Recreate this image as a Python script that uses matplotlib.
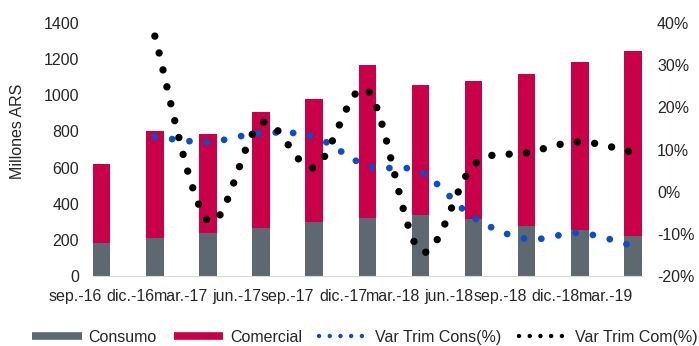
import numpy as np
import matplotlib
matplotlib.use("Agg")
import matplotlib.pyplot as plt
from matplotlib.lines import Line2D
from matplotlib.ticker import FuncFormatter

# quarterly data, millones ARS
trimestres = ['sep.-16', 'dic.-16', 'mar.-17', 'jun.-17', 'sep.-17', 'dic.-17',
              'mar.-18', 'jun.-18', 'sep.-18', 'dic.-18', 'mar.-19']
consumo = [183, 210, 236, 267, 300, 321, 338, 315, 278, 253, 220]
total = [620, 800, 785, 910, 980, 1165, 1055, 1080, 1120, 1185, 1245]
comercial = [t - c for t, c in zip(total, consumo)]

# quarterly variation (%), starts at dic.-16
var_cons = [13.0, 11.8, 13.9, 13.0, 6.1, 4.7, -6.1, -11.2, -9.8, -12.9]
var_com = [36.9, -6.9, 16.3, 5.7, 24.1, -14.1, 6.3, 9.2, 11.8, 9.3]

GRIS = '#5d6870'
ROJO = '#c90047'
AZUL = '#0a4fc8'
TXT = '#262626'


def suavizar(x, y, n=40):
    # excel-like smoothed line (catmull-rom as bezier)
    p = np.column_stack([x, y]).astype(float)
    p = np.vstack([p[0], p, p[-1]])
    out = []
    t = np.linspace(0, 1, n)[:, None]
    for i in range(1, len(p) - 2):
        p0, p1, p2, p3 = p[i - 1], p[i], p[i + 1], p[i + 2]
        b1 = p1 + (p2 - p0) / 6
        b2 = p2 - (p3 - p1) / 6
        seg = ((1 - t) ** 3) * p1 + 3 * ((1 - t) ** 2) * t * b1 + 3 * (1 - t) * t ** 2 * b2 + t ** 3 * p2
        out.append(seg if i == 1 else seg[1:])
    out = np.vstack(out)
    return out[:, 0], out[:, 1]


def main():
    plt.rcParams['font.family'] = ['Liberation Sans', 'DejaVu Sans']
    plt.rcParams['font.size'] = 11.5

    fig = plt.figure(figsize=(6.99, 3.46), dpi=100)
    ax = fig.add_axes([0.133, 0.2023, 0.785, 0.7312])
    x = np.arange(len(trimestres))
    w = 0.33

    ax.bar(x, consumo, w, color=GRIS, zorder=2)
    ax.bar(x, comercial, w, bottom=consumo, color=ROJO, zorder=2)
    ax.set_xlim(-w / 2, x[-1] + w / 2)
    ax.set_ylim(0, 1400)
    ax.set_yticks(range(0, 1401, 200))
    ax.set_xticks(x)
    ax.set_xticklabels(trimestres, ha='right', color=TXT)
    ax.tick_params(axis='x', length=0, pad=9)
    ax.tick_params(axis='y', length=0, pad=10, labelcolor=TXT)
    ax.set_ylabel('Millones ARS', color=TXT)
    ax.yaxis.set_label_coords(-0.124, 0.573)
    for s in ['top', 'left', 'right']:
        ax.spines[s].set_visible(False)
    ax.spines['bottom'].set_color('#d9d9d9')

    ax2 = ax.twinx()
    ax2.set_ylim(-20, 40)
    ax2.set_yticks(range(-20, 41, 10))
    ax2.yaxis.set_major_formatter(FuncFormatter(lambda v, p: '%d%%' % v))
    ax2.tick_params(axis='y', length=0, pad=11, labelcolor=TXT)
    for s in ax2.spines.values():
        s.set_visible(False)

    xs, ys = suavizar(x[1:], var_cons)
    ax2.plot(xs, ys, color=AZUL, lw=4.9, linestyle=(0, (0.01, 2.55)),
             dash_capstyle='round', zorder=3)
    xs, ys = suavizar(x[1:], var_com)
    ax2.plot(xs, ys, color='black', lw=5.3, linestyle=(0, (0.01, 2.35)),
             dash_capstyle='round', zorder=4)

    handles = [
        Line2D([], [], color=GRIS, lw=5.5, solid_capstyle='butt'),
        Line2D([], [], color=ROJO, lw=5.5, solid_capstyle='butt'),
        Line2D([], [], color=AZUL, lw=3.2, linestyle=(0, (0.01, 2.4)), dash_capstyle='round'),
        Line2D([], [], color='black', lw=3.2, linestyle=(0, (0.01, 2.4)), dash_capstyle='round'),
    ]
    etiquetas = ['Consumo', 'Comercial', 'Var Trim Cons(%)', 'Var Trim Com(%)']
    leg = fig.legend(handles, etiquetas, loc='center', bbox_to_anchor=(0.522, 0.026),
                     ncol=4, frameon=False, handlelength=3.1, handletextpad=0.4,
                     columnspacing=1.1, borderpad=0)
    for t in leg.get_texts():
        t.set_color(TXT)

    fig.savefig('out.png', dpi=100)


if __name__ == '__main__':
    main()
